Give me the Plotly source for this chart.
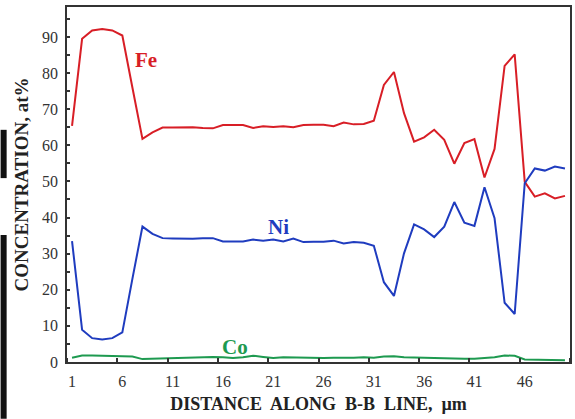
import plotly.graph_objects as go

distance = list(range(1, 51))
fe = [65.4, 89.5, 91.8, 92.2, 91.8, 90.4, 76.0, 61.8, 63.6, 64.9,
      64.9, 65.0, 65.0, 64.8, 64.7, 65.6, 65.6, 65.6, 64.8, 65.3,
      65.1, 65.3, 65.0, 65.6, 65.7, 65.7, 65.3, 66.3, 65.8, 65.9,
      66.8, 76.7, 80.3, 68.9, 61.0, 62.2, 64.3, 61.5, 54.9, 60.6,
      61.7, 51.1, 59.0, 82.0, 85.2, 49.9, 45.8, 46.7, 45.3, 46.0]
ni = [33.5, 8.9, 6.6, 6.2, 6.6, 8.2, 23.0, 37.5, 35.5, 34.3,
      34.2, 34.1, 34.1, 34.3, 34.3, 33.4, 33.5, 33.4, 33.9, 33.6,
      33.9, 33.4, 34.2, 33.2, 33.3, 33.3, 33.6, 32.8, 33.2, 33.0,
      32.2, 22.1, 18.3, 30.1, 38.1, 36.7, 34.6, 37.5, 44.3, 38.6,
      37.7, 48.4, 39.8, 16.4, 13.3, 49.5, 53.6, 53.0, 54.1, 53.6]
co = [1.2, 1.8, 1.8, 1.7, 1.8, 1.6, 1.5, 0.8, 0.9, 1.0,
      1.1, 1.0, 1.2, 1.4, 1.4, 1.3, 1.1, 1.3, 1.75, 1.4,
      1.1, 1.3, 1.2, 1.1, 1.2, 1.1, 1.2, 1.1, 1.2, 1.3,
      1.2, 1.5, 1.6, 1.3, 1.2, 1.1, 1.1, 1.0, 1.0, 0.9,
      0.9, 1.0, 1.3, 1.8, 1.7, 0.7, 0.7, 0.5, 0.7, 0.5]

RED = "#d81e26"
BLUE = "#1f3cbf"
GREEN = "#1e9a50"
SERIF = "Liberation Serif, Times New Roman, serif"

fig = go.Figure()
for name, ys, col in [("Fe", fe, RED), ("Ni", ni, BLUE), ("Co", co, GREEN)]:
    fig.add_trace(go.Scatter(x=distance, y=ys, mode="lines", name=name,
                             line=dict(color=col, width=2), showlegend=False))

for txt, x, y, col in [("Fe", 8.4, 83.7, RED), ("Ni", 21.5, 37.3, BLUE), ("Co", 17.2, 4.2, GREEN)]:
    fig.add_annotation(x=x, y=y, text=f"<b>{txt}</b>", showarrow=False,
                       font=dict(family=SERIF, size=21, color=col))

# screenshot edge artifact on the far left
for y0, y1 in [(-0.16, 0.358), (0.518, 0.654)]:
    fig.add_shape(type="rect", xref="paper", yref="paper", x0=-0.132, x1=-0.120,
                  y0=y0, y1=y1, fillcolor="#111", line=dict(width=0), layer="above")

axis_common = dict(showline=True, linecolor="#333", linewidth=1.5, mirror=True,
                   showgrid=False, zeroline=False,
                   tickfont=dict(family=SERIF, size=16, color="#333"))

fig.update_xaxes(range=[0.5, 50.5], tickmode="linear", tick0=1, dtick=5,
                 ticks="", ticklen=0, ticklabelstandoff=4,
                 minor=dict(ticks="inside", ticklen=4, tick0=0.5, dtick=5,
                            tickcolor="#333", tickwidth=1.5, showgrid=False),
                 title=dict(text="<b>DISTANCE\u00a0 ALONG\u00a0 B-B\u00a0 LINE,\u00a0 µm</b>",
                            font=dict(family=SERIF, size=18, color="#222"), standoff=8),
                 **axis_common)
fig.update_yaxes(range=[0, 98.3], tickmode="linear", tick0=0, dtick=10,
                 ticks="inside", ticklen=3, tickcolor="#333", tickwidth=1.5,
                 ticklabelstandoff=4,
                 minor=dict(ticks="inside", ticklen=3, dtick=5, tick0=0,
                            tickcolor="#333", tickwidth=1.5, showgrid=False),
                 title=dict(text="<b>CONCENTRATION, at%</b>",
                            font=dict(family=SERIF, size=19, color="#222"), standoff=8),
                 **axis_common)

fig.update_layout(width=575, height=419, margin=dict(l=67, r=3, t=7, b=57),
                  paper_bgcolor="white", plot_bgcolor="white")

fig.write_html("out.html")
